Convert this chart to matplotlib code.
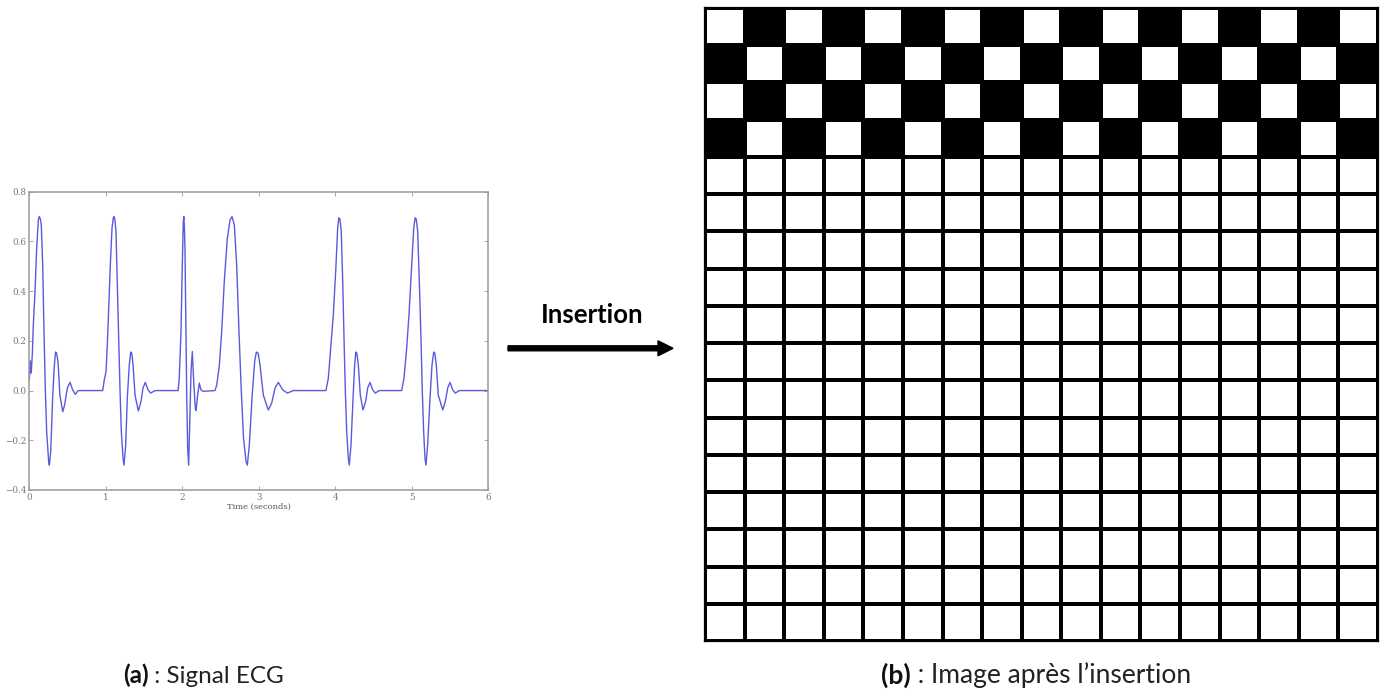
import matplotlib
matplotlib.use("Agg")
import matplotlib.pyplot as plt
from matplotlib.colors import ListedColormap
from matplotlib.patches import FancyArrow

# ---------------- data: ECG signal ----------------
beat1_t = [0.000, 0.012, 0.025, 0.040, 0.052, 0.075, 0.096, 0.118, 0.130, 0.145,
           0.157, 0.175, 0.192, 0.210, 0.227, 0.253, 0.262, 0.280, 0.305, 0.327,
           0.343, 0.357, 0.375, 0.400, 0.437, 0.462, 0.497, 0.532, 0.567, 0.600, 0.640]
beat1_v = [0.04, 0.12, 0.07, 0.15, 0.26, 0.40, 0.57, 0.686, 0.70, 0.69,
           0.666, 0.505, 0.237, 0.0, -0.165, -0.286, -0.30, -0.245, -0.03, 0.10,
           0.155, 0.15, 0.117, -0.018, -0.085, -0.058, 0.01, 0.033, 0.003, -0.015, 0.0]

beat2_t = [0.959, 0.980, 1.003, 1.020, 1.038, 1.059, 1.081, 1.098, 1.107, 1.118,
           1.133, 1.150, 1.169, 1.186, 1.203, 1.225, 1.238, 1.260, 1.281, 1.307,
           1.326, 1.340, 1.356, 1.382, 1.425, 1.460, 1.486, 1.516, 1.552, 1.587, 1.643]
beat2_v = [0.0, 0.043, 0.076, 0.183, 0.33, 0.505, 0.653, 0.695, 0.70, 0.69,
           0.64, 0.44, 0.21, 0.0, -0.165, -0.272, -0.30, -0.219, -0.031, 0.103,
           0.155, 0.15, 0.103, -0.018, -0.082, -0.044, 0.01, 0.033, 0.003, -0.01, 0.0]

beat3_t = [1.945, 1.960, 1.983, 2.000, 2.013, 2.020, 2.027, 2.035, 2.048, 2.057,
           2.070, 2.083, 2.100, 2.114, 2.131, 2.149, 2.170, 2.180, 2.201, 2.222,
           2.244, 2.274]
beat3_v = [0.0, 0.05, 0.237, 0.505, 0.68, 0.70, 0.66, 0.57, 0.237, 0.0,
           -0.232, -0.30, -0.098, 0.076, 0.157, 0.036, -0.071, -0.08, -0.018, 0.03,
           0.003, -0.003]

beat4_t = [2.427, 2.450, 2.484, 2.515, 2.549, 2.588, 2.624, 2.650, 2.680, 2.711,
           2.741, 2.771, 2.800, 2.833, 2.850, 2.876, 2.911, 2.946, 2.968, 2.992,
           3.016, 3.059, 3.124, 3.168, 3.212, 3.255, 3.312, 3.373, 3.450]
beat4_v = [0.0, 0.022, 0.10, 0.237, 0.44, 0.61, 0.686, 0.70, 0.666, 0.505,
           0.237, 0.0, -0.19, -0.286, -0.30, -0.219, -0.031, 0.117, 0.155, 0.15,
           0.103, -0.018, -0.078, -0.051, 0.01, 0.033, 0.003, -0.01, 0.0]

beat5_t = [3.878, 3.909, 3.940, 3.974, 4.005, 4.031, 4.045, 4.060, 4.078, 4.097,
           4.114, 4.131, 4.149, 4.170, 4.183, 4.205, 4.232, 4.253, 4.268, 4.282,
           4.301, 4.327, 4.362, 4.397, 4.423, 4.453, 4.489, 4.523, 4.575]
beat5_v = [0.0, 0.05, 0.17, 0.304, 0.479, 0.653, 0.695, 0.69, 0.64, 0.44,
           0.21, 0.0, -0.165, -0.272, -0.30, -0.219, -0.031, 0.103, 0.155, 0.15,
           0.103, -0.018, -0.078, -0.044, 0.01, 0.033, 0.003, -0.01, 0.0]

beat6_t = [4.868, 4.898, 4.933, 4.963, 4.994, 5.025, 5.043, 5.058, 5.077, 5.098,
           5.120, 5.137, 5.155, 5.172, 5.185, 5.207, 5.238, 5.264, 5.287, 5.301,
           5.320, 5.346, 5.404, 5.438, 5.469, 5.499, 5.535, 5.569, 5.621, 6.000]
beat6_v = [0.0, 0.05, 0.17, 0.304, 0.479, 0.653, 0.695, 0.69, 0.64, 0.44,
           0.21, 0.0, -0.165, -0.272, -0.30, -0.219, -0.031, 0.103, 0.155, 0.15,
           0.103, -0.018, -0.078, -0.044, 0.01, 0.033, 0.003, -0.01, 0.0, 0.0]

x_ticks = [0, 1, 2, 3, 4, 5, 6]
y_ticks = [-0.4, -0.2, 0.0, 0.2, 0.4, 0.6, 0.8]
y_tick_labels = ["\u22120.4", "\u22120.2", "0.0", "0.2", "0.4", "0.6", "0.8"]

# ---------------- data: image after insertion (1 = black cell) ----------------
row_0 = [0, 1, 0, 1, 0, 1, 0, 1, 0, 1, 0, 1, 0, 1, 0, 1, 0]
row_1 = [1, 0, 1, 0, 1, 0, 1, 0, 1, 0, 1, 0, 1, 0, 1, 0, 1]
row_2 = [0, 1, 0, 1, 0, 1, 0, 1, 0, 1, 0, 1, 0, 1, 0, 1, 0]
row_3 = [1, 0, 1, 0, 1, 0, 1, 0, 1, 0, 1, 0, 1, 0, 1, 0, 1]
blank_row = [0] * 17
n_blank_rows = 13
image_rows = [row_0, row_1, row_2, row_3] + [blank_row] * n_blank_rows

caption_a = ("(a)", " : Signal ECG")
caption_b = ("(b)", " : Image apr\u00e8s l\u2019insertion")
arrow_label = "Insertion"

# ---------------- figure ----------------
W, H = 1382, 694
fig = plt.figure(figsize=(W / 100, H / 100), dpi=100)
fig.patch.set_facecolor("white")


def rect(x0, y0, x1, y1):
    return [x0 / W, 1 - y1 / H, (x1 - x0) / W, (y1 - y0) / H]


# ECG panel
t_all = beat1_t + beat2_t + beat3_t + beat4_t + beat5_t + beat6_t
v_all = beat1_v + beat2_v + beat3_v + beat4_v + beat5_v + beat6_v
ax1 = fig.add_axes(rect(29.3, 191.7, 488.3, 490))
ax1.plot(t_all, v_all, color="#5a5ae0", lw=1.0, solid_joinstyle="round")
ax1.set_xlim(0, 6)
ax1.set_ylim(-0.4, 0.8)
ax1.set_xticks(x_ticks)
ax1.set_yticks(y_ticks)
ax1.set_yticklabels(y_tick_labels)
ax1.tick_params(direction="in", top=True, right=True, length=3, width=0.6,
                color="#999999", labelsize=6.3, labelcolor="#777777", pad=2)
for lab in ax1.get_xticklabels() + ax1.get_yticklabels():
    lab.set_family("DejaVu Serif")
for sp in ax1.spines.values():
    sp.set_color("#9a9a9a")
    sp.set_linewidth(1.1)
ax1.set_xlabel("Time (seconds)", fontsize=6, color="#555555", labelpad=1,
               family="DejaVu Serif")

# Grid panel
ax2 = fig.add_axes(rect(705, 8, 1378, 641))
ax2.pcolormesh(image_rows, cmap=ListedColormap(["white", "black"]), vmin=0, vmax=1,
               edgecolors="black", linewidth=1.5)
ax2.set_xlim(0, len(image_rows[0]))
ax2.set_ylim(len(image_rows), 0)
ax2.set_xticks([])
ax2.set_yticks([])
for sp in ax2.spines.values():
    sp.set_color("black")
    sp.set_linewidth(1.6)

# Arrow and its label (in inches: pixel / 100)
tr = fig.dpi_scale_trans
fig.add_artist(FancyArrow(508 / 100, (H - 348.3) / 100, (673 - 508) / 100, 0,
                          width=5 / 100, head_width=15 / 100, head_length=15 / 100,
                          length_includes_head=True, color="black", transform=tr))
fig.text(592 / 100, (H - 323.3) / 100, arrow_label, transform=tr, ha="center",
         va="baseline", fontsize=18.5, fontweight="bold", family="Lato", color="black")

# Captions (centred on the reference centres)
fig.canvas.draw()
renderer = fig.canvas.get_renderer()


def caption(x_center, parts, size):
    y = (H - 683.3) / 100
    t1 = fig.text(0, y, parts[0], transform=tr, ha="left", va="baseline",
                  fontsize=size, fontweight="bold", family="Lato", color="#111111")
    t2 = fig.text(0, y, parts[1], transform=tr, ha="left", va="baseline",
                  fontsize=size, family="Lato", color="#222222")
    w1 = t1.get_window_extent(renderer).width
    w2 = t2.get_window_extent(renderer).width
    x0 = x_center - (w1 + w2) / 2
    t1.set_x(x0 / 100)
    t2.set_x((x0 + w1) / 100)


caption(203.5, caption_a, 17.5)
caption(1036, caption_b, 19)

fig.savefig("out.png", dpi=100, facecolor="white")
